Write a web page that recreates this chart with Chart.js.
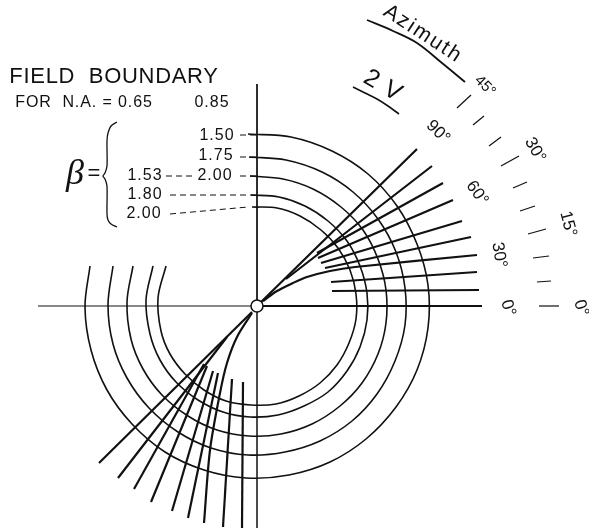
<!DOCTYPE html>
<html>
<head>
<meta charset="utf-8">
<title>Field boundary</title>
<script src="https://cdn.jsdelivr.net/npm/chart.js@4/dist/chart.umd.min.js"></script>
<style>
  html, body { margin: 0; padding: 0; background: #fff; }
  canvas { display: block; }
</style>
</head>
<body>
<canvas id="fieldChart" width="589" height="531"></canvas>
<script>
// Field boundary arcs (origin at the small circle)
const arcBeta150 = [[-9,172],[34,169],[75,155],[111,132],[140,100],[160,62],[171,21],[171,-22],[160,-64],[139,-101],[109,-133],[73,-156],[32,-169],[-11,-172],[-53,-164],[-92,-146],[-125,-118],[-150,-84],[-166,-44],[-172,-1],[-167,40]];
const arcBeta175 = [[-8,149],[29,146],[65,134],[96,114],[121,87],[139,54],[148,18],[148,-19],[138,-55],[120,-88],[95,-115],[63,-135],[28,-146],[-9,-149],[-46,-142],[-79,-126],[-108,-102],[-130,-72],[-144,-38],[-149,1],[-144,40]];
const arcBeta200 = [[-7,130],[26,127],[56,117],[84,99],[106,76],[121,47],[129,16],[129,-17],[121,-48],[105,-77],[83,-100],[55,-118],[24,-128],[-8,-130],[-40,-124],[-69,-110],[-95,-89],[-114,-63],[-126,-33],[-130,4],[-124,40]];
const arcBeta180 = [[-6,111],[22,109],[48,100],[71,85],[90,65],[103,40],[110,13],[110,-14],[103,-41],[90,-65],[71,-86],[47,-100],[21,-109],[-7,-111],[-34,-106],[-59,-94],[-81,-76],[-97,-54],[-107,-28],[-111,6],[-104,40]];
const arcBeta153 = [[-5,99],[20,98],[43,90],[64,76],[81,58],[93,36],[99,12],[99,-13],[92,-37],[80,-59],[63,-77],[42,-90],[19,-98],[-6,-99],[-31,-95],[-53,-84],[-72,-68],[-87,-48],[-96,-25],[-99,8],[-91,40]];

// Upper right family of lines, 0 up to 90
const upperLines = [
  [[0,0],[225,0]],
  [[75,15],[222,16]],
  [[74,24],[220,34]],
  [[6,5],[20,15],[36,23],[50,29],[73,35],[98,39],[220,51]],
  [[68,38],[214,69]],
  [[64,43],[205,85]],
  [[61,48],[196,106]],
  [[60,53],[186,123]],
  [[29,27],[175,140]],
  [[0,0],[160,157]]
];

// Lower left family
const lowerLines = [
  [[-14,-76],[-15,-222]],
  [[-25,-73],[-34,-221]],
  [[-5,-7],[-20,-31],[-30,-57],[-37,-87],[-47,-144],[-53,-217]],
  [[-39,-67],[-69,-212]],
  [[-44,-65],[-85,-205]],
  [[-50,-60],[-106,-196]],
  [[-53,-58],[-123,-183]],
  [[-30,-31],[-139,-172]],
  [[-5,-6],[-158,-157]]
];

// Axes
const axisLeft = [[-219,0],[0,0]];
const axisUp = [[0,222],[0,0]];
const axisDown = [[0,0],[0,-222]];

// Azimuth tick marks
const azimuthTicks = [
  [[200,198],[214,211]],
  [[216,181],[227,190]],
  [[232,160],[244,169]],
  [[244,140],[262,150]],
  [[256,118],[270,124]],
  [[263,95],[278,100]],
  [[271,72],[289,77]],
  [[276,48],[292,50]],
  [[280,24],[294,25]],
  [[282,0],[302,0]]
];

// Curved rules under the headings
const azimuthRule = [[110,286],[136,275],[160,263],[185,243],[208,224]];
const twoVRule = [[96,219],[108,213],[120,207],[131,200],[142,192]];

// Leaders from the beta values to the arcs
const leaders = [
  [[-17,171],[0,171]],
  [[-17,149],[0,149]],
  [[-91,130],[-65,130]],
  [[-17,130],[0,130]],
  [[-87,111],[0,111]],
  [[-87,92],[-9,99]]
];

const brace = [[-140,184],[-146,180],[-149,173],[-150,165],[-150,140],[-152,133],[-154,130],[-152,127],[-150,120],[-150,92],[-149,86],[-146,82],[-140,79]];

// Text, placed in canvas pixels: [text, x, y, degrees, font, letter spacing]
const labelTexts = [
  ["FIELD  BOUNDARY", 114, 77, 0, "22px 'Liberation Sans'", "0.7px"],
  ["FOR  N.A. = 0.65", 84, 103, 0, "16px 'Liberation Sans'", "0.9px"],
  ["0.85", 212, 103, 0, "16px 'Liberation Sans'", "1px"],
  ["1.50", 217, 136, 0, "16px 'Liberation Sans'", "1px"],
  ["1.75", 216, 156, 0, "16px 'Liberation Sans'", "1px"],
  ["1.53", 145, 176, 0, "16px 'Liberation Sans'", "1px"],
  ["2.00", 215, 176, 0, "16px 'Liberation Sans'", "1px"],
  ["1.80", 145, 195, 0, "16px 'Liberation Sans'", "1px"],
  ["2.00", 144, 214, 0, "16px 'Liberation Sans'", "1px"],
  ["β", 75, 175, 0, "italic 36px 'Liberation Serif'", "0px"],
  ["=", 94, 174, 0, "22px 'Liberation Sans'", "0px"],
  ["Azimuth", 423, 34, 33, "21px 'Liberation Sans'", "2px"],
  ["2 V", 383, 86, 30, "25px 'Liberation Sans'", "1px"],
  ["45°", 485, 86, 45, "15px 'Liberation Sans'", "0px"],
  ["90°", 438, 132, 45, "17px 'Liberation Sans'", "0px"],
  ["30°", 535, 150, 60, "17px 'Liberation Sans'", "0px"],
  ["60°", 477, 193, 55, "17px 'Liberation Sans'", "0px"],
  ["15°", 568, 224, 75, "17px 'Liberation Sans'", "0px"],
  ["30°", 499, 255, 80, "17px 'Liberation Sans'", "0px"],
  ["0°", 508, 308, 72, "17px 'Liberation Sans'", "0px"],
  ["0°", 581, 308, 72, "17px 'Liberation Sans'", "0px"]
];

function lineSet(points, width, extra) {
  return Object.assign({
    data: points.map(p => ({ x: p[0], y: p[1] })),
    showLine: true,
    borderColor: "#111",
    borderWidth: width,
    pointRadius: 0,
    tension: 0
  }, extra);
}

const textPlugin = {
  id: "diagramText",
  afterDraw(chart) {
    const c = chart.ctx;
    labelTexts.forEach(t => {
      c.save();
      c.translate(t[1], t[2]);
      c.rotate(t[3] * Math.PI / 180);
      c.font = t[4];
      c.letterSpacing = t[5];
      c.fillStyle = "#111";
      c.textAlign = "center";
      c.textBaseline = "middle";
      c.fillText(t[0], 0, 0);
      c.restore();
    });
  }
};

const datasets = [
  // small open circle at the origin, on top of every line
  { data: [{ x: 0, y: 0 }], pointRadius: 6, pointBackgroundColor: "#fff", pointBorderColor: "#111", pointBorderWidth: 1.5, order: -1 }
];

[arcBeta150, arcBeta175, arcBeta200, arcBeta180, arcBeta153].forEach(a => datasets.push(lineSet(a, 1.6, { tension: 0.34 })));
upperLines.forEach(l => datasets.push(lineSet(l, 2.2, { tension: 0.3 })));
lowerLines.forEach(l => datasets.push(lineSet(l, 2.2, { tension: 0.3 })));
datasets.push(lineSet(axisLeft, 1));
datasets.push(lineSet(axisUp, 1));
datasets.push(lineSet(axisDown, 1.5));
azimuthTicks.forEach(t => datasets.push(lineSet(t, 1.2)));
datasets.push(lineSet(azimuthRule, 1.8, { tension: 0.35 }));
datasets.push(lineSet(twoVRule, 1.6, { tension: 0.35 }));
leaders.forEach(l => datasets.push(lineSet(l, 1, { borderDash: [6, 4] })));
datasets.push(lineSet(brace, 1.3, { tension: 0.3 }));

new Chart(document.getElementById("fieldChart"), {
  type: "scatter",
  data: { datasets: datasets },
  plugins: [textPlugin],
  options: {
    responsive: false,
    animation: false,
    layout: { padding: 0, autoPadding: false },
    plugins: { legend: { display: false }, tooltip: { enabled: false } },
    scales: {
      x: { type: "linear", display: false, min: -257, max: 332 },
      y: { type: "linear", display: false, min: -225, max: 306 }
    }
  }
});
</script>
</body>
</html>
